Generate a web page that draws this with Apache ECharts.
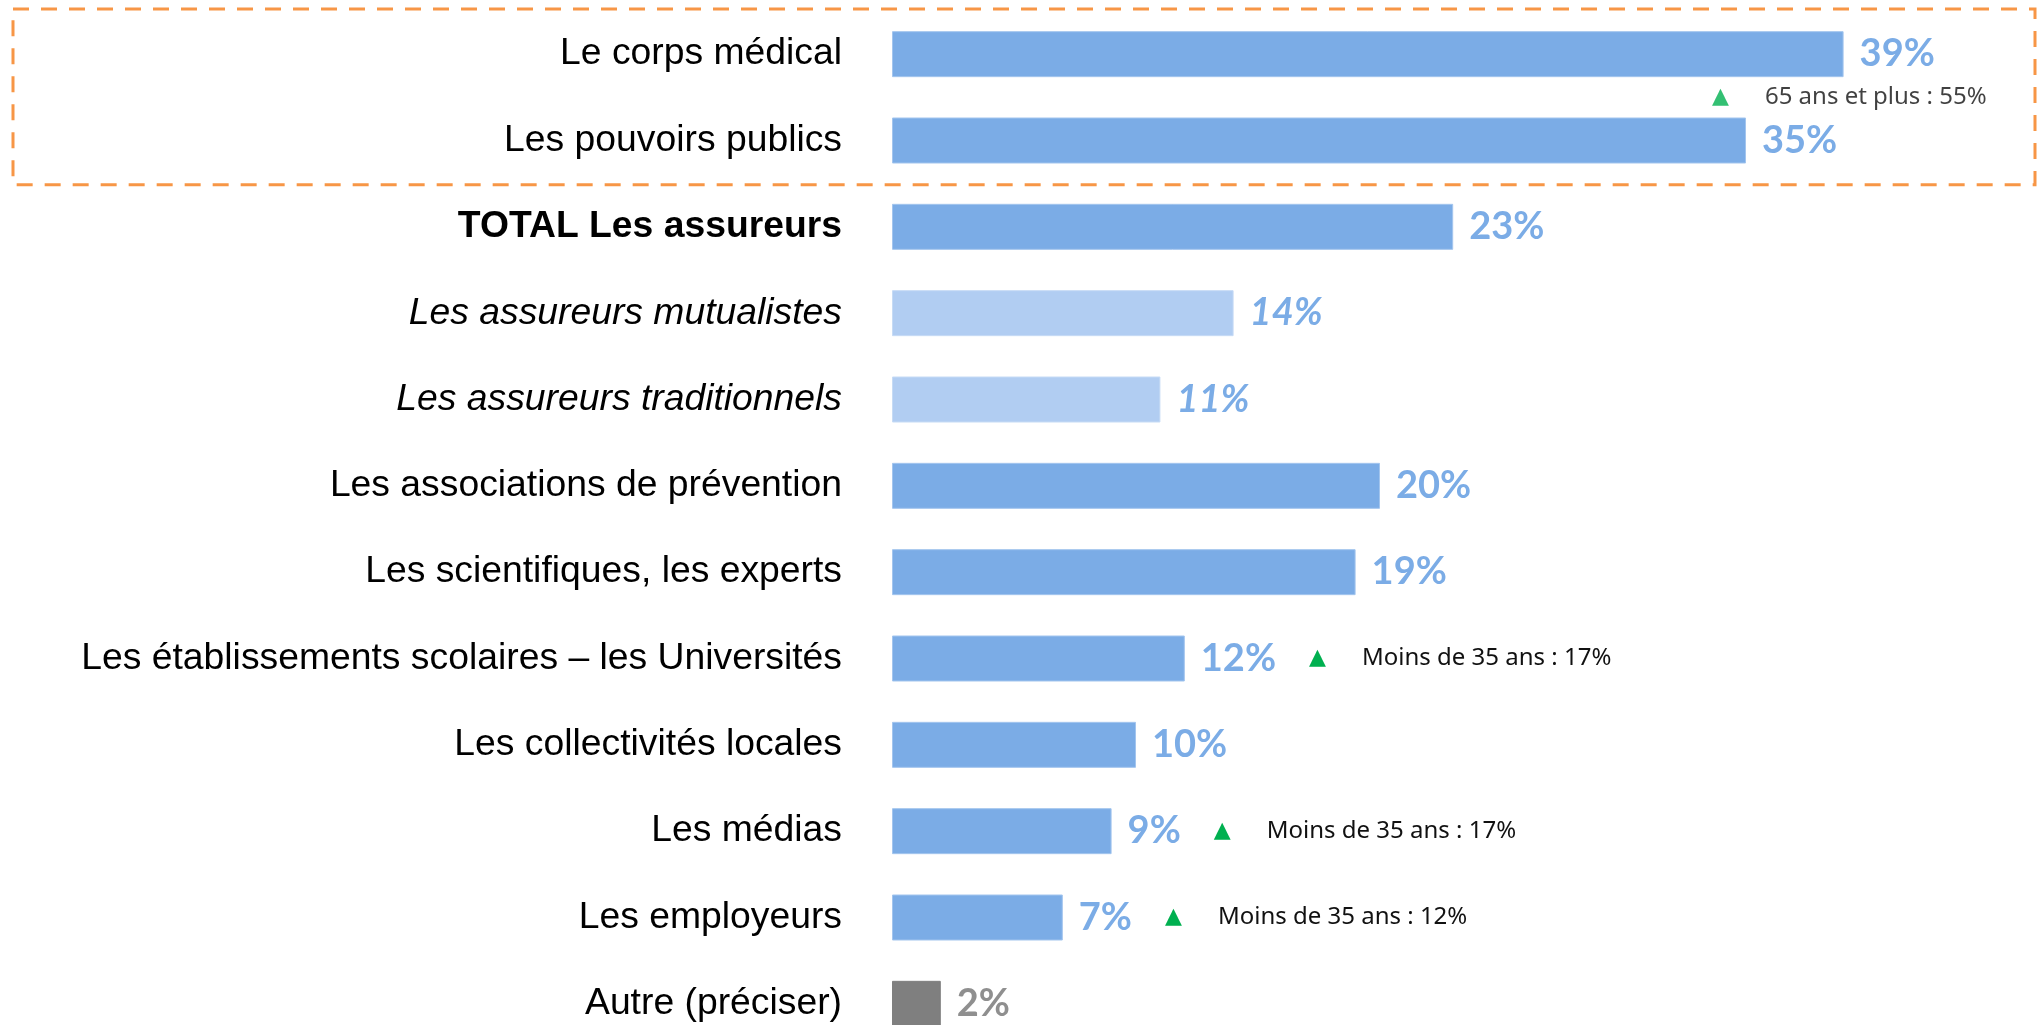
<!DOCTYPE html>
<html lang="fr">
<head>
<meta charset="utf-8">
<title>Acteurs de la prévention</title>
<script src="https://cdn.jsdelivr.net/npm/echarts@6/dist/echarts.min.js"></script>
<style>
  html, body { margin: 0; padding: 0; background: #ffffff; }
  #chart { width: 2044px; height: 1025px; }
</style>
</head>
<body>
<div id="chart"></div>
<script>
// Rows, top to bottom
const categories = [
  'Le corps médical',
  'Les pouvoirs publics',
  'TOTAL Les assureurs',
  'Les assureurs mutualistes',
  'Les assureurs traditionnels',
  'Les associations de prévention',
  'Les scientifiques, les experts',
  'Les établissements scolaires – les Universités',
  'Les collectivités locales',
  'Les médias',
  'Les employeurs',
  'Autre (préciser)'
];
// Share of respondents (%)
const values = [39, 35, 23, 14, 11, 20, 19, 12, 10, 9, 7, 2];

// Row roles
const totalRows = [2];
const detailRows = [3, 4];
const otherRows = [11];

// Sub-group highlights shown after a bar's value
const noteRows = [7, 9, 10];
const noteTexts = ['Moins de 35 ans : 17%', 'Moins de 35 ans : 17%', 'Moins de 35 ans : 12%'];

// Highlight placed between the first two rows
const headNoteText = '65 ans et plus : 55%';
const headNoteRow = 1;

const BLUE = '#7BACE6';
const LIGHT_BLUE = '#B1CDF2';
const GREY = '#7F7F7F';
const GREY_TEXT = '#8F8F8F';
const GREEN = '#00B050';
const ORANGE = '#F79646';

const catFont = "'Liberation Sans', Arial, sans-serif";
const valFont = "Lato, 'Open Sans', sans-serif";
const noteFont = "'Noto Sans', sans-serif";

const valueStyle = { fontFamily: valFont, fontWeight: 'bold', fontSize: 38, color: BLUE };
const noteRich = {
  v: valueStyle,
  vi: Object.assign({}, valueStyle, { fontStyle: 'italic' }),
  vg: Object.assign({}, valueStyle, { color: GREY_TEXT }),
  tri: { fontFamily: "'DejaVu Sans'", fontSize: 22, color: GREEN, padding: [0, 0, 0, 33] },
  note: { fontFamily: noteFont, fontSize: 24, color: '#111111', padding: [0, 0, 0, 36] }
};

function barColor(i) {
  if (otherRows.includes(i)) return GREY;
  if (detailRows.includes(i)) return LIGHT_BLUE;
  return BLUE;
}
function barBorder(i) {
  if (otherRows.includes(i)) return GREY;
  if (detailRows.includes(i)) return '#C6DBF5';
  return '#A3C5EE';
}

const barData = values.map((v, i) => ({
  value: v,
  itemStyle: { color: barColor(i), borderColor: barBorder(i), borderWidth: 1 }
}));

const chart = echarts.init(document.getElementById('chart'), null, { renderer: 'canvas' });

chart.setOption({
  animation: false,
  backgroundColor: '#ffffff',
  grid: { left: 892, right: 54, top: 11, height: 1036, outerBoundsMode: 'none', containLabel: false },
  xAxis: {
    type: 'value', min: 0, max: 45, show: false
  },
  yAxis: [
    {
      type: 'category',
      data: categories,
      inverse: true,
      axisLine: { show: false },
      axisTick: { show: false },
      splitLine: { show: false },
      axisLabel: {
        margin: 50,
        formatter: function (value, index) {
          if (totalRows.includes(index)) return '{b|' + value + '}';
          if (detailRows.includes(index)) return '{i|' + value + '}';
          return '{n|' + value + '}';
        },
        rich: {
          n: { fontFamily: catFont, fontSize: 37.3, color: '#000000' },
          b: { fontFamily: catFont, fontSize: 37.3, color: '#000000', fontWeight: 'bold' },
          i: { fontFamily: catFont, fontSize: 37.3, color: '#000000', fontStyle: 'italic' }
        }
      }
    },
    {
      // continuous twin of the row axis, used to place notes between rows
      type: 'value',
      min: -0.5,
      max: categories.length - 0.5,
      inverse: true,
      show: false
    }
  ],
  series: [
    {
      type: 'bar',
      yAxisIndex: 0,
      barWidth: 46,
      data: barData,
      silent: true,
      label: {
        show: true,
        position: 'right',
        distance: 16,
        formatter: function (p) {
          const i = p.dataIndex;
          const key = otherRows.includes(i) ? 'vg' : (detailRows.includes(i) ? 'vi' : 'v');
          let s = '{' + key + '|' + values[i] + '%}';
          const k = noteRows.indexOf(i);
          if (k >= 0) s += '{tri|▲}{note|' + noteTexts[k] + '}';
          return s;
        },
        rich: noteRich
      }
    },
    {
      type: 'scatter',
      xAxisIndex: 0,
      yAxisIndex: 1,
      symbolSize: 0,
      silent: true,
      data: [[values[headNoteRow], headNoteRow - 0.5]],
      label: {
        show: true,
        position: 'right',
        distance: 0,
        offset: [-34, 0],
        formatter: '{tri|▲}{note|' + headNoteText + '}',
        rich: {
          tri: { fontFamily: "'DejaVu Sans'", fontSize: 22, color: GREEN },
          note: { fontFamily: noteFont, fontSize: 24, color: '#111111', padding: [0, 0, 0, 36] }
        }
      }
    }
  ]
});

// Dashed frame around the two leading rows
const frameTop = chart.convertToPixel({ yAxisIndex: 1 }, -0.5);
const frameBottom = chart.convertToPixel({ yAxisIndex: 1 }, 1.5);
chart.setOption({
  graphic: [{
    type: 'rect',
    silent: true,
    shape: { x: 13, y: frameTop - 2, width: chart.getWidth() - 22, height: frameBottom - frameTop + 3 },
    style: { fill: 'none', stroke: ORANGE, lineWidth: 3, lineDash: [16, 12] }
  }]
});
</script>
</body>
</html>
